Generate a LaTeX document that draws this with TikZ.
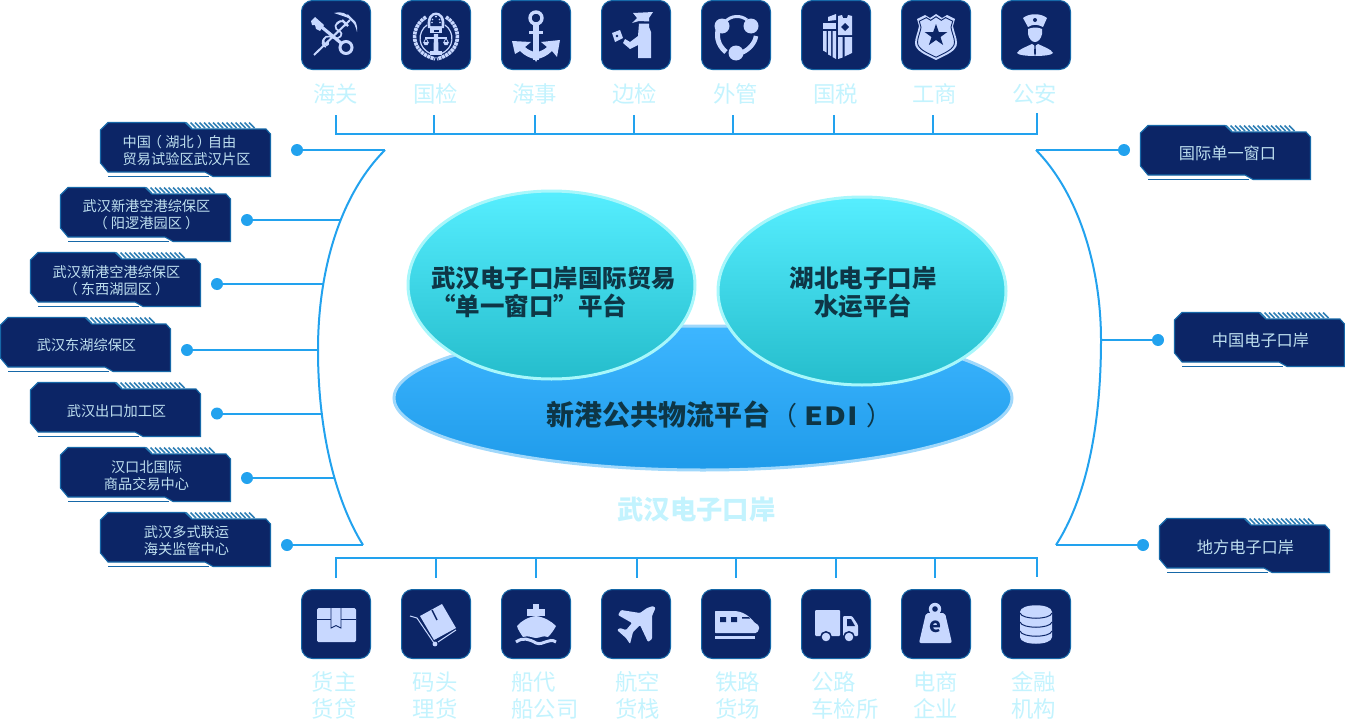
\documentclass[tikz,border=0pt]{standalone}
\usepackage{fontspec}
\setmainfont{Noto Sans CJK SC}
\usetikzlibrary{shapes.geometric}
\definecolor{iconbg}{HTML}{0C2566}
\definecolor{iconbd}{HTML}{1668A8}
\definecolor{iconfg}{HTML}{C8D8FF}
\definecolor{lab}{HTML}{C3F3FE}
\definecolor{wire}{HTML}{22A2EE}
\definecolor{tagtxt}{HTML}{BFE0F0}
\definecolor{hatchc}{HTML}{2F7FB5}
\definecolor{dark}{HTML}{0E3646}
\definecolor{ediTop}{HTML}{3DB6FF}
\definecolor{ediBot}{HTML}{1F9BEA}
\definecolor{ediRim}{HTML}{A0D8FB}
\definecolor{ovTop}{HTML}{56EEFF}
\definecolor{ovBot}{HTML}{25BDCC}
\definecolor{ovRim}{HTML}{A8F7FB}
\newcommand{\lpar}{\kern-.22em（\kern.22em}
\newcommand{\rpar}{\kern.22em）\kern-.22em}
\tikzset{
  iconbox/.style={draw=iconbd,fill=iconbg,line width=1pt,rounded corners=11pt,minimum width=69pt,minimum height=69pt,inner sep=0pt},
  fg/.style={fill=iconfg,draw=none},
  ln/.style={draw=iconfg,fill=none},
  dk/.style={fill=iconbg,draw=none},
  dl/.style={draw=iconbg,fill=none},
  labeltxt/.style={text=lab,inner sep=0pt,font=\fontsize{22.4}{27}\selectfont},
  tagtext/.style={text=tagtxt,inner sep=0pt,align=center,font=\fontsize{14.2}{17}\selectfont},
  tagtextb/.style={text=tagtxt,inner sep=0pt,align=center,font=\fontsize{16.2}{19}\selectfont},
  wireline/.style={draw=wire,line width=2pt},
  dotnode/.style={circle,fill=wire,minimum size=12pt,inner sep=0pt},
  oval/.style={ellipse,inner sep=0pt,line width=3pt,top color=ovTop,bottom color=ovBot,draw=ovRim},
  hd/.style={text=dark,font=\fontsize{24.5}{28}\selectfont\bfseries,inner sep=0pt},
}
\newcommand{\tagshape}[2]{%
  \begin{scope}[shift={(#1,#2)}]
    \draw[fill=iconbg,draw=iconbd,line width=1.1pt] (0.5,8)--(8,0.5)--(85,0.5)--(92,7)--(166,7)--(170.5,12)--(170.5,54.5)--(113,54.5)--(105,50)--(8,50)--(0.5,41)--cycle;
    \draw[draw=iconbd,line width=1.1pt] (8,54.3)--(109,54.3);
    \foreach \k in {0,...,14}{\draw[hatchc,line width=1.7pt] ({86+4.5*\k},0.5)--({91.5+4.5*\k},6);}
  \end{scope}}
\newcommand{\iconat}[3]{\node[iconbox] (#1) at (#2,#3) {};}
\begin{document}
\begin{tikzpicture}[x=1pt,y=-1pt]
\useasboundingbox (0,0) rectangle (1345,720);

% ---------- brackets
\coordinate (LT) at (385,150);\coordinate (LM) at (318,350);\coordinate (LB) at (363,545);
\coordinate (RT) at (1036,150);\coordinate (RM) at (1101,340);\coordinate (RB) at (1056,545);
\draw[wireline] (LT) .. controls (340,195) and (318,270) .. (LM) .. controls (318,430) and (335,500) .. (LB);
\draw[wireline] (RT) .. controls (1080,195) and (1101,270) .. (RM) .. controls (1101,430) and (1085,500) .. (RB);

% ---------- tags
\tagshape{100}{122}\tagshape{60}{187}\tagshape{30}{252}\tagshape{0}{317}\tagshape{30}{382}\tagshape{60}{447}\tagshape{100}{512}
\tagshape{1140}{125}\tagshape{1174}{312}\tagshape{1159}{518}
\node[tagtext,align=left,anchor=west] (t1) at (122.5,150.5) {中国\lpar 湖北\rpar 自由\\贸易试验区武汉片区};
\node[tagtext] (t2) at (146.5,214.5) {武汉新港空港综保区\\\lpar 阳逻港园区\rpar};
\node[tagtext] (t3) at (116.5,280.5) {武汉新港空港综保区\\\lpar 东西湖园区\rpar};
\node[tagtext] (t4) at (86.5,345) {武汉东湖综保区};
\node[tagtext] (t5) at (116.5,411) {武汉出口加工区};
\node[tagtext] (t6) at (146.5,475.5) {汉口北国际\\商品交易中心};
\node[tagtext] (t7) at (186.5,540.5) {武汉多式联运\\海关监管中心};
\node[tagtextb] (r1) at (1227.5,153) {国际单一窗口};
\node[tagtextb] (r2) at (1260.5,340) {中国电子口岸};
\node[tagtextb] (r3) at (1245.5,547) {地方电子口岸};

% ---------- dots & connectors
\node[dotnode] (d1) at (297,150) {};\node[dotnode] (d2) at (247,220) {};\node[dotnode] (d3) at (217,284) {};
\node[dotnode] (d4) at (187,350) {};\node[dotnode] (d5) at (217,413.5) {};\node[dotnode] (d6) at (247,478) {};
\node[dotnode] (d7) at (287,545) {};
\node[dotnode] (e1) at (1124,150) {};\node[dotnode] (e2) at (1158,340) {};\node[dotnode] (e3) at (1143,545) {};
\coordinate (j2) at (341,220);\coordinate (j3) at (324,284);\coordinate (j5) at (323,413.5);\coordinate (j6) at (334,478);
\draw[wireline] (d1)--(LT);\draw[wireline] (d2)--(j2);\draw[wireline] (d3)--(j3);\draw[wireline] (d4)--(LM);
\draw[wireline] (d5)--(j5);\draw[wireline] (d6)--(j6);\draw[wireline] (d7)--(LB);
\draw[wireline] (e1)--(RT);\draw[wireline] (e2)--(RM);\draw[wireline] (e3)--(RB);

% ---------- buses
\coordinate (ta) at (336,134);\coordinate (tb) at (1037,134);
\coordinate (ba) at (336,558);\coordinate (bb) at (1037,558);
\draw[wireline] (336,115)--(ta)--(tb)--(1037,113);
\draw[wireline] (336,578)--(ba)--(bb)--(1037,577);
\foreach \x in {434,534.5,634,733,834,933}{\draw[wireline] (\x,115)--(\x,134);}
\foreach \x in {436,536,637,736,836,935}{\draw[wireline] (\x,558)--(\x,578);}

% ---------- icon boxes
\foreach \n/\x in {a/336,b/436,c/536,d/636,e/736,f/836,g/936,h/1036}{
  \iconat{top\n}{\x}{35}
  \iconat{bot\n}{\x}{624}
}

% ---- top 1 customs
\begin{scope}[shift={(301,0)}]
  \draw[ln,line width=3.2pt] (17,24)--(40,43);
  \draw[ln,line width=3pt] (45,47.5) circle[radius=6];
  \fill[fg] (10,21)--(14,17)--(23,25)--(19,31)--(15,29)--(14,25)--(11,25)--cycle;
  \draw[ln,line width=2pt] (13,55)--(49,20);
  \draw[ln,line width=2.4pt] (46,15)--(54,23) (41,20)--(47,26);
  \fill[fg] (33,13) .. controls (40,11) and (46,13) .. (50,19) .. controls (45,17) and (39,15) .. cycle;
  \fill[fg] (50,19) .. controls (55,20) and (57,26) .. (56,32) .. controls (55,27) and (53,23) .. cycle;
  \draw[ln,line width=1.7pt] (40,21) .. controls (33,23) and (33,29) .. (38,31) .. controls (44,34) and (38,40) .. (33,38) .. controls (27,35) and (21,36) .. (23,43) .. controls (24,46) and (28,46) .. (27,42);
  \draw[ln,line width=1.7pt] (44,26) .. controls (46,21) and (39,19) .. (36,24);
  \draw[ln,line width=1.5pt] (24,38) .. controls (20,40) and (21,47) .. (25,47);
\end{scope}
% ---- top 2 inspection emblem
\begin{scope}[shift={(401,0)}]
  \draw[ln,line width=3.6pt,dash pattern=on 3pt off .7pt] (25,17) .. controls (9,27) and (8,52) .. (34,59);
  \draw[ln,line width=3.6pt,dash pattern=on 3pt off .7pt] (45,17) .. controls (61,27) and (62,52) .. (36,59);
  \draw[ln,line width=1.2pt] (26,25) .. controls (16,32) and (16,49) .. (31,54);
  \draw[ln,line width=1.2pt] (44,25) .. controls (54,32) and (54,49) .. (39,54);
  \fill[fg] (27,28) .. controls (25,16) and (31,12.5) .. (35,12.5) .. controls (39,12.5) and (45,16) .. (43,28) -- cycle;
  \fill[dk] (29.5,26) .. controls (28.5,18) and (32,15) .. (35,15) .. controls (38,15) and (41.5,18) .. (40.5,26) -- cycle;
  \fill[fg] (35,16.5) circle[radius=1.2] (31.5,19.5) circle[radius=.8] (38.5,19.5) circle[radius=.8] (31,22.5) circle[radius=.8] (39,22.5) circle[radius=.8];
  \fill[fg] (29,28) rectangle (41,33);
  \fill[dk] (32.5,29.5) rectangle (37.5,31.5);
  \fill[fg] (33,34)--(37,34)--(37.5,51)--(32.5,51)--cycle;
  \draw[ln,line width=1.3pt] (24,38)--(46,38);
  \fill[fg] (22,42)--(28,42)--(26.5,45)--(23.5,45)--cycle;
  \fill[fg] (42,42)--(48,42)--(46.5,45)--(43.5,45)--cycle;
  \draw[ln,line width=.8pt] (25,38)--(23,42) (25,38)--(27,42) (45,38)--(43,42) (45,38)--(47,42);
  \fill[fg] (29,51) rectangle (41,55);
\end{scope}
% ---- top 3 anchor
\begin{scope}[shift={(501,0)}]
  \draw[ln,line width=3.4pt] (35,18) circle[radius=6];
  \fill[fg] (32,24) rectangle (38,60);
  \fill[fg] (28,31) rectangle (42,34);
  \fill[fg] (11,41)--(30,42)--(24,47) .. controls (27,50) and (31,51) .. (33,52) -- (37,52) .. controls (39,51) and (43,50) .. (46,47) -- (40,42)--(59,40)--(56,57)--(51,51) .. controls (46,56) and (41,58) .. (36.5,59) -- (35,62)--(33.5,59) .. controls (29,58) and (24,56) .. (19,51) -- (14,54) -- cycle;
\end{scope}
% ---- top 4 border officer
\begin{scope}[shift={(601,0)}]
  \fill[fg] (32,13)--(52,12)--(48,18)--(48,21.5)--(38,21)--(31,23)--(36,18)--cycle;
  \fill[fg] (38,23.5)--(48,23.5)--(48,27)--(50,32)--(50,58)--(37,58)--(37,45)--(29,49)--(22,43)--(24,39)--(29,42)--(37,36)--cycle;
  \fill[fg] (11,33)--(19,30)--(22,38)--(14,42)--cycle;
  \fill[dk] (16,36) circle[radius=1.4];
\end{scope}
% ---- top 5 forex
\begin{scope}[shift={(701,0)}]
  \fill[fg] (21,26) circle[radius=7.5] (50,26) circle[radius=7.5] (35,53) circle[radius=7.5];
  \draw[ln,line width=3pt] (24,22) .. controls (30,15) and (40,15) .. (46,20);
  \draw[ln,line width=5pt] (17,30) .. controls (15,40) and (19,47) .. (25,52);
  \draw[ln,line width=4.5pt] (40,53) .. controls (48,50) and (54,43) .. (55,36);
\end{scope}
% ---- top 6 tax
\begin{scope}[shift={(801,0)}]
  \fill[fg] (27,17)--(35,14)--(35,20)--(27,21)--cycle;
  \fill[fg] (22,23) rectangle (35,29);
  \fill[fg] (22,31)--(25.5,31)--(25.5,52.5)--(22,50.5)--cycle;
  \fill[fg] (27,31)--(30,31)--(30,56)--(27,54.5)--cycle;
  \fill[fg] (31.5,31)--(35,31)--(35,59)--(31.5,57)--cycle;
  \fill[fg] (37,16)--(41,15)--(42,18)--(46,18)--(47,15)--(51,16)--(51,35)--(37,35)--cycle;
  \fill[dk] (44,23)--(48,27)--(44,31)--(40,27)--cycle;
  \fill[fg] (37,37)--(41.5,37)--(41.5,57.5)--(37,59)--cycle;
  \fill[fg] (43.5,37)--(51,37)--(51,53)--(43.5,56.5)--cycle;
\end{scope}
% ---- top 7 badge
\begin{scope}[shift={(901,0)}]
  \def\shieldpath{(16,19)--(24,15)--(29,18)--(35,14)--(41,18)--(46,15)--(54,19)--(52,26) .. controls (53,32) and (56,38) .. (56,43) .. controls (56,51) and (45,55) .. (35,60) .. controls (25,55) and (14,51) .. (14,43) .. controls (14,38) and (17,32) .. (18,26) -- cycle}
  \fill[fg] \shieldpath;
  \begin{scope}[shift={(35,37)},scale=.88,shift={(-35,-37)}]
    \draw[dl,line width=.9pt] \shieldpath;
  \end{scope}
  \fill[iconbg] (35,24)--(37.8,32)--(46.4,32)--(39.5,37)--(42.1,45)--(35,40)--(27.9,45)--(30.5,37)--(23.6,32)--(32.2,32)--cycle;
\end{scope}
% ---- top 8 police
\begin{scope}[shift={(1001,0)}]
  \fill[fg] (22,18) .. controls (28,13) and (40,13) .. (46,18) -- (42,27) .. controls (36,24) and (32,24) .. (27,27) -- cycle;
  \fill[dk] (34,20) circle[radius=2];
  \fill[fg] (27,29) .. controls (32,27) and (37,27) .. (41,29) -- (41,34) .. controls (40,39) and (37,42) .. (34,42) .. controls (31,42) and (28,39) .. (27,34) -- cycle;
  \fill[fg] (16,53) .. controls (18,49) and (25,47) .. (31,44) -- (34,46) -- (37,44) .. controls (43,47) and (50,49) .. (52,53) .. controls (50,57) and (18,57) .. (16,53) -- cycle;
  \fill[dk] (33.5,45)--(34.5,45)--(35,53)--(34,56)--(33,53)--cycle;
\end{scope}

% ---- bottom 1 box
\begin{scope}[shift={(301,589)}]
  \fill[fg,rounded corners=1.5pt] (16,19) rectangle (55,53);
  \draw[dl,line width=.9pt] (16,30)--(30,30) (40,30)--(55,30);
  \draw[dl,line width=.9pt] (30,19)--(30,39)--(35,36.5)--(40,39)--(40,19);
\end{scope}
% ---- bottom 2 trolley
\begin{scope}[shift={(401,589)}]
  \fill[fg] (19,27)--(41,15)--(55,39)--(33,51)--cycle;
  \draw[dl,line width=1.4pt] (31,21)--(36,31);
  \draw[ln,line width=1pt] (9,27)--(16,29)--(33,54);
  \draw[ln,line width=1pt] (37,53)--(55,41);
  \fill[fg] (34,55) circle[radius=2.4];
\end{scope}
% ---- bottom 3 ship
\begin{scope}[shift={(501,589)}]
  \fill[fg] (32,15) rectangle (38,20);
  \fill[fg] (26,20)--(44,20)--(44,27)--(26,27)--cycle;
  \fill[fg] (35,27) .. controls (27,28) and (20,32) .. (16,37) .. controls (17,41) and (20,45) .. (22,48) .. controls (28,46) and (31,49) .. (35,49) .. controls (39,49) and (42,46) .. (47,48) .. controls (50,45) and (53,41) .. (55,37) .. controls (50,32) and (43,28) .. (35,27) -- cycle;
  \draw[ln,line width=3pt] (15,53) .. controls (22,48) and (28,50) .. (35,54) .. controls (42,57) and (48,48) .. (55,53);
\end{scope}
% ---- bottom 4 plane
\begin{scope}[shift={(601,589)}]
  \fill[fg,rounded corners=1pt] (52,17)--(54.5,19)--(51,27)--(51,50)--(47,53)--(39,36)--(32,43)--(29,55)--(25,49)--(16,41)--(19,39)--(25,41)--(31,34)--(17,26)--(20,21)--(39,24)--(46,19)--cycle;
\end{scope}
% ---- bottom 5 train
\begin{scope}[shift={(701,589)}]
  \fill[fg,rounded corners=.5pt] (14,22)--(34,22) .. controls (44,23) and (50,29) .. (54,34) .. controls (57,35) and (58,37) .. (58,39) .. controls (58,42) and (56,44) .. (54,44) -- (14,44) -- cycle;
  \fill[dk] (19,28) rectangle (25,33) (30,28) rectangle (36,33);
  \fill[dk] (41,28)--(48,28)--(49,29.5)--(41,29.5)--cycle;
  \fill[fg] (14,47) rectangle (54,50);
\end{scope}
% ---- bottom 6 truck
\begin{scope}[shift={(801,589)}]
  \fill[fg,rounded corners=1pt] (14,21) rectangle (39,47);
  \fill[fg,rounded corners=1pt] (42,27)--(51,27)--(57,36)--(57,47)--(42,47)--cycle;
  \fill[dk] (46,30)--(50,30)--(54,37)--(46,37)--cycle;
  \draw[fill=iconfg,draw=iconbg,line width=1.5pt] (25,48) circle[radius=5.2];
  \draw[fill=iconfg,draw=iconbg,line width=1.5pt] (48,48) circle[radius=5.2];
\end{scope}
% ---- bottom 7 e-shop weight
\begin{scope}[shift={(901,589)}]
  \fill[fg,rounded corners=2pt] (25,24)--(44,24)--(51,54)--(18,54)--cycle;
  \fill[fg] (34,20) circle[radius=6.2];
  \fill[dk] (34,20) circle[radius=2.8];
  \node[text=iconbg,inner sep=0pt,font=\fontsize{20}{22}\selectfont\bfseries] (etxt) at (34,38) {e};
\end{scope}
% ---- bottom 8 database
\begin{scope}[shift={(1001,589)}]
  \fill[fg] (19,23) .. controls (19,14) and (51,14) .. (51,23) -- (51,48) .. controls (51,57) and (19,57) .. (19,48) -- cycle;
  \draw[dl,line width=1pt] (19,24) .. controls (21,31) and (49,31) .. (51,24);
  \draw[dl,line width=1pt] (19,33) .. controls (21,40) and (49,40) .. (51,33);
  \draw[dl,line width=1pt] (19,42) .. controls (21,49) and (49,49) .. (51,42);
\end{scope}

% ---------- labels
\foreach \n/\t/\x in {a/海关/335.5,b/国检/435.5,c/海事/534.5,d/边检/634.5,e/外管/735.5,f/国税/835.5,g/工商/934.5,h/公安/1034.5}{
  \node[labeltxt] (lt\n) at (\x,94) {\t};
}
\node[labeltxt,anchor=west] (lb1a) at (311.5,682) {货主};\node[labeltxt,anchor=west] (lb1b) at (311.5,709) {货贷};
\node[labeltxt,anchor=west] (lb2a) at (412.5,682) {码头};\node[labeltxt,anchor=west] (lb2b) at (412.5,709) {理货};
\node[labeltxt,anchor=west] (lb3a) at (511,682) {船代};\node[labeltxt,anchor=west] (lb3b) at (511,709) {船公司};
\node[labeltxt,anchor=west] (lb4a) at (615,682) {航空};\node[labeltxt,anchor=west] (lb4b) at (615,709) {货栈};
\node[labeltxt,anchor=west] (lb5a) at (715,682) {铁路};\node[labeltxt,anchor=west] (lb5b) at (715,709) {货场};
\node[labeltxt,anchor=west] (lb6a) at (811,682) {公路};\node[labeltxt,anchor=west] (lb6b) at (811,709) {车检所};
\node[labeltxt,anchor=west] (lb7a) at (913,682) {电商};\node[labeltxt,anchor=west] (lb7b) at (913,709) {企业};
\node[labeltxt,anchor=west] (lb8a) at (1011,682) {金融};\node[labeltxt,anchor=west] (lb8b) at (1011,709) {机构};

% ---------- ellipses
\node[ellipse,inner sep=0pt,line width=3pt,minimum width=618pt,minimum height=144pt,top color=ediTop,bottom color=ediBot,draw=ediRim] (edi) at (703,398) {};
\node[oval,minimum width=287pt,minimum height=188pt] (wh) at (551.5,285) {};
\node[oval,minimum width=288pt,minimum height=188pt] (hb) at (862,291) {};

\node[hd,anchor=west] (w1) at (431,278) {武汉电子口岸国际贸易};
\node[hd,anchor=west] (w2) at (431,306) {“单一窗口”平台};
\node[hd] (h1) at (863,278) {湖北电子口岸};
\node[hd] (h2) at (863,306) {水运平台};
\node[hd,font=\fontsize{28}{32}\selectfont\bfseries,anchor=west] (et) at (546,415) {新港公共物流平台\rlap{\hspace{1pt}\fontsize{26}{30}\mdseries\selectfont （}\rlap{\hspace{34pt}\fontsize{25}{30}\selectfont\addfontfeature{LetterSpace=5,FakeStretch=1.2}EDI}\rlap{\hspace{96pt}\fontsize{26}{30}\mdseries\selectfont ）}\hspace{110pt}};
\node[inner sep=0pt,text=lab,font=\fontsize{26.4}{30}\selectfont\bfseries] (wt) at (696.5,509) {武汉电子口岸};
\end{tikzpicture}
\end{document}
